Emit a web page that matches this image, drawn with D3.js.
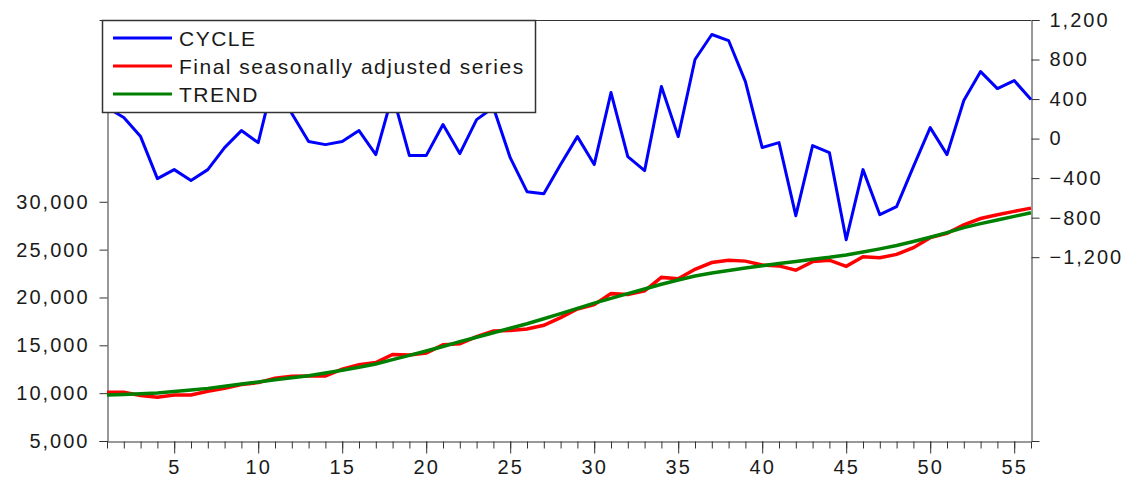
<!DOCTYPE html>
<html>
<head>
<meta charset="utf-8">
<script src="https://cdn.jsdelivr.net/npm/d3@7"></script>
<style>
  body { margin: 0; background: #fff; }
  svg text { font-family: "Liberation Sans", Arial, sans-serif; fill: #1a1a1a; }
  .tick text { font-size: 20px; letter-spacing: 2px; }
  .legend text { font-size: 21px; letter-spacing: 1.5px; }
</style>
</head>
<body>
<svg id="chart" width="1126" height="481"></svg>
<script>
// periods 1..56
var periods = d3.range(1, 57)

// CYCLE (right axis)
var cycle = [314, 213, 20, -405, -314, -425, -314, -91, 81, -41,
    648, 253, -30, -61, -30, 81, -162, 446, -172, -172,
    142, -152, 192, 314, -193, -537, -557, -263, 20, -263,
    466, -182, -324, 527, 20, 800, 1053, 992, 577, -91,
    -41, -780, -71, -142, -1023, -314, -770, -689, -284, 111,
    -162, 385, 678, 506, 587, 395]

// Final seasonally adjusted series (left axis)
var sa = [10100, 10100, 9750, 9570, 9800, 9810, 10200, 10500, 10900, 11100,
    11550, 11780, 11800, 11800, 12500, 12980, 13200, 14050, 14000, 14200,
    15050, 15150, 15900, 16500, 16550, 16700, 17100, 17900, 18800, 19250,
    20400, 20300, 20700, 22100, 21950, 22950, 23650, 23900, 23800, 23400,
    23300, 22850, 23750, 23900, 23250, 24250, 24150, 24500, 25200, 26250,
    26700, 27600, 28250, 28650, 29000, 29340]

// TREND (left axis)
var trend = [9800, 9870, 9940, 10010, 10180, 10340, 10500, 10720, 10950, 11170,
    11400, 11610, 11830, 12100, 12400, 12700, 13050, 13500, 13950, 14400,
    14880, 15380, 15850, 16320, 16790, 17260, 17780, 18320, 18860, 19410,
    19910, 20400, 20890, 21380, 21830, 22250, 22550, 22810, 23070, 23320,
    23550, 23770, 23990, 24200, 24450, 24750, 25080, 25430, 25850, 26300,
    26780, 27300, 27720, 28100, 28480, 28850]

var leftTicks = [5000, 10000, 15000, 20000, 25000, 30000]
var rightTicks = [-1200, -800, -400, 0, 400, 800, 1200]
var xLabels = [5, 10, 15, 20, 25, 30, 35, 40, 45, 50, 55]
var seriesNames = ["CYCLE", "Final seasonally adjusted series", "TREND"]
var seriesColors = ["#0000ff", "#ff0000", "#008000"]

var plotLeft = 107, plotRight = 1031, plotTop = 20, plotBottom = 441

var x = d3.scaleLinear().domain([1, 56]).range([plotLeft, plotRight])
var yL = d3.scaleLinear().domain([5000, 49000]).range([plotBottom, plotTop])
var yR = d3.scaleLinear().domain([-3060, 1200]).range([plotBottom, plotTop])

var svg = d3.select("#chart")

// frame top line
svg.append("line")
    .attr("x1", plotLeft).attr("x2", plotRight)
    .attr("y1", plotTop + 0.5).attr("y2", plotTop + 0.5)
    .style("stroke", "#333").style("stroke-width", 1)

// left axis
svg.append("g")
    .attr("transform", `translate(${plotLeft + 0.5},0)`)
    .call(d3.axisLeft(yL).tickValues(leftTicks).tickSize(8).tickPadding(10)
        .tickFormat(d3.format(",")))

// right axis
svg.append("g")
    .attr("transform", `translate(${plotRight + 0.5},0)`)
    .call(d3.axisRight(yR).tickValues(rightTicks).tickSize(8).tickPadding(10)
        .tickFormat(d3.format(",")))

// bottom axis: minor ticks every period, labels every 5
svg.append("g")
    .attr("transform", `translate(0,${plotBottom + 0.5})`)
    .call(d3.axisBottom(x).tickValues(periods).tickSize(7).tickSizeOuter(0).tickFormat(""))

svg.append("g")
    .attr("transform", `translate(0,${plotBottom + 0.5})`)
    .call(d3.axisBottom(x).tickValues(xLabels).tickSize(12).tickPadding(6)
        .tickFormat(d3.format("d")))
    .call(g => g.select(".domain").remove())

svg.selectAll(".domain").style("stroke", "#333")
svg.selectAll(".tick line").style("stroke", "#333")

// lines
var lineLeft = d3.line().x((d, i) => x(periods[i])).y(d => yL(d))
var lineRight = d3.line().x((d, i) => x(periods[i])).y(d => yR(d))

svg.append("path")
    .datum(sa)
    .attr("d", lineLeft)
    .style("fill", "none").style("stroke", seriesColors[1]).style("stroke-width", 3.5)

svg.append("path")
    .datum(trend)
    .attr("d", lineLeft)
    .style("fill", "none").style("stroke", seriesColors[2]).style("stroke-width", 3.5)

svg.append("path")
    .datum(cycle)
    .attr("d", lineRight)
    .style("fill", "none").style("stroke", seriesColors[0]).style("stroke-width", 3)
    .style("stroke-linejoin", "round")

// legend
var legend = svg.append("g").attr("class", "legend")

legend.append("rect")
    .attr("x", 102.5).attr("y", plotTop + 0.5)
    .attr("width", 433).attr("height", 92)
    .style("fill", "#fff").style("stroke", "#333").style("stroke-width", 1.5)

legend.selectAll("line.key")
    .data(seriesNames)
    .enter()
    .append("line")
    .attr("class", "key")
    .attr("x1", 113).attr("x2", 172)
    .attr("y1", (d, i) => 38 + i * 28)
    .attr("y2", (d, i) => 38 + i * 28)
    .style("stroke", (d, i) => seriesColors[i])
    .style("stroke-width", 3)

legend.selectAll("text")
    .data(seriesNames)
    .enter()
    .append("text")
    .attr("x", 179)
    .attr("y", (d, i) => 46 + i * 28)
    .text(d => d)
</script>
</body>
</html>
